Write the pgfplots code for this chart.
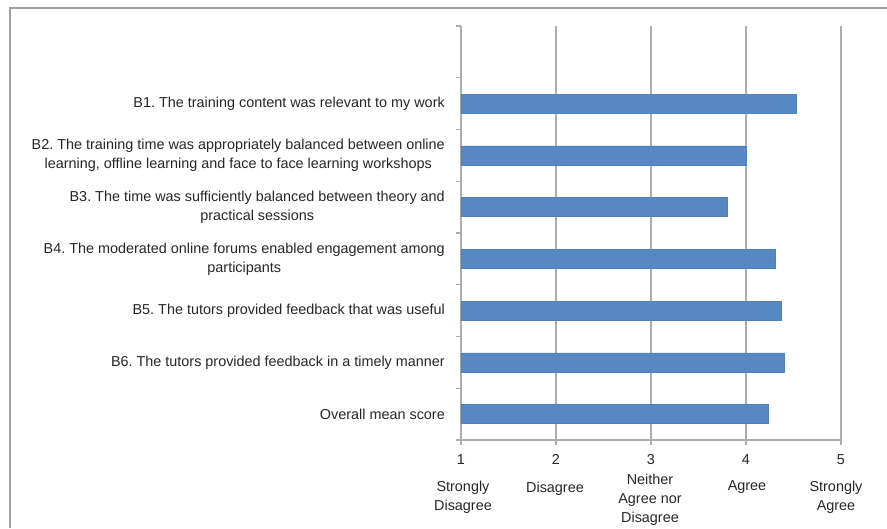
\documentclass[border=0pt]{standalone}
\usepackage{pgfplots}
\pgfplotsset{compat=1.18}
\usepackage{fontspec}
\setmainfont{Liberation Sans}
\frenchspacing
\definecolor{barfill}{HTML}{5888C4}
\definecolor{barline}{HTML}{4F81BD}
\definecolor{gridc}{HTML}{ADADAD}
\begin{document}
\begin{tikzpicture}[x=1pt,y=1pt]
\useasboundingbox (0,0) rectangle (887,528);
\draw[gray!75, line width=1.6pt] (10,0) -- (10,520) -- (887,520);
\begin{axis}[
  at={(461pt,88pt)}, anchor=south west,
  width=380pt, height=414pt, scale only axis,
  xbar, xmin=1, xmax=5, ymin=0.5, ymax=8.5,
  bar width=19pt,
  axis x line*=bottom, axis y line*=left,
  axis line style={gridc, line width=1.2pt},
  xtick={1,2,3,4,5},
  xmajorgrids, grid style={gridc, line width=1.2pt},
  tick align=outside, major tick length=5pt,
  tick style={gridc, line width=1.2pt},
  ytick={0.5,1.5,...,8.5}, yticklabels={},
  extra y ticks={1,2,3,4,5,6,7},
  extra y tick labels={Overall mean score,
    B6. The tutors provided feedback in a timely manner,
    B5. The tutors provided feedback that was useful,
    {B4. The moderated online forums enabled engagement among\\participants},
    {B3. The time was sufficiently balanced between theory and\\practical sessions},
    {B2. The training time was appropriately balanced between online\\learning, offline learning and face to face learning workshops},
    B1. The training content was relevant to my work},
  extra y tick style={major tick length=0pt},
  yticklabel style={align=center, anchor=east, inner sep=0pt, xshift=-16pt,
    font=\fontsize{14.4}{19}\selectfont, text=black!85},
  xticklabel style={inner sep=0pt, yshift=-9pt,
    font=\fontsize{14.4}{16}\selectfont, text=black!85},
  /pgf/number format/assume math mode=true,
  clip=false,
]
\addplot[fill=barfill, draw=barline, line width=0.6pt] coordinates {
  (4.24,1) (4.40,2) (4.37,3) (4.31,4) (3.80,5) (4.00,6) (4.53,7)
};
\end{axis}
\begin{scope}[font=\fontsize{14.4}{19}\selectfont, text=black!85]
\node[align=center] at (463,30.5) {Strongly\\Disagree};
\node[align=center] at (555,39) {Disagree};
\node[align=center] at (650,28) {Neither\\Agree nor\\Disagree};
\node[align=center] at (747,41) {Agree};
\node[align=center] at (836,31) {Strongly\\Agree};
\end{scope}
\end{tikzpicture}
\end{document}
